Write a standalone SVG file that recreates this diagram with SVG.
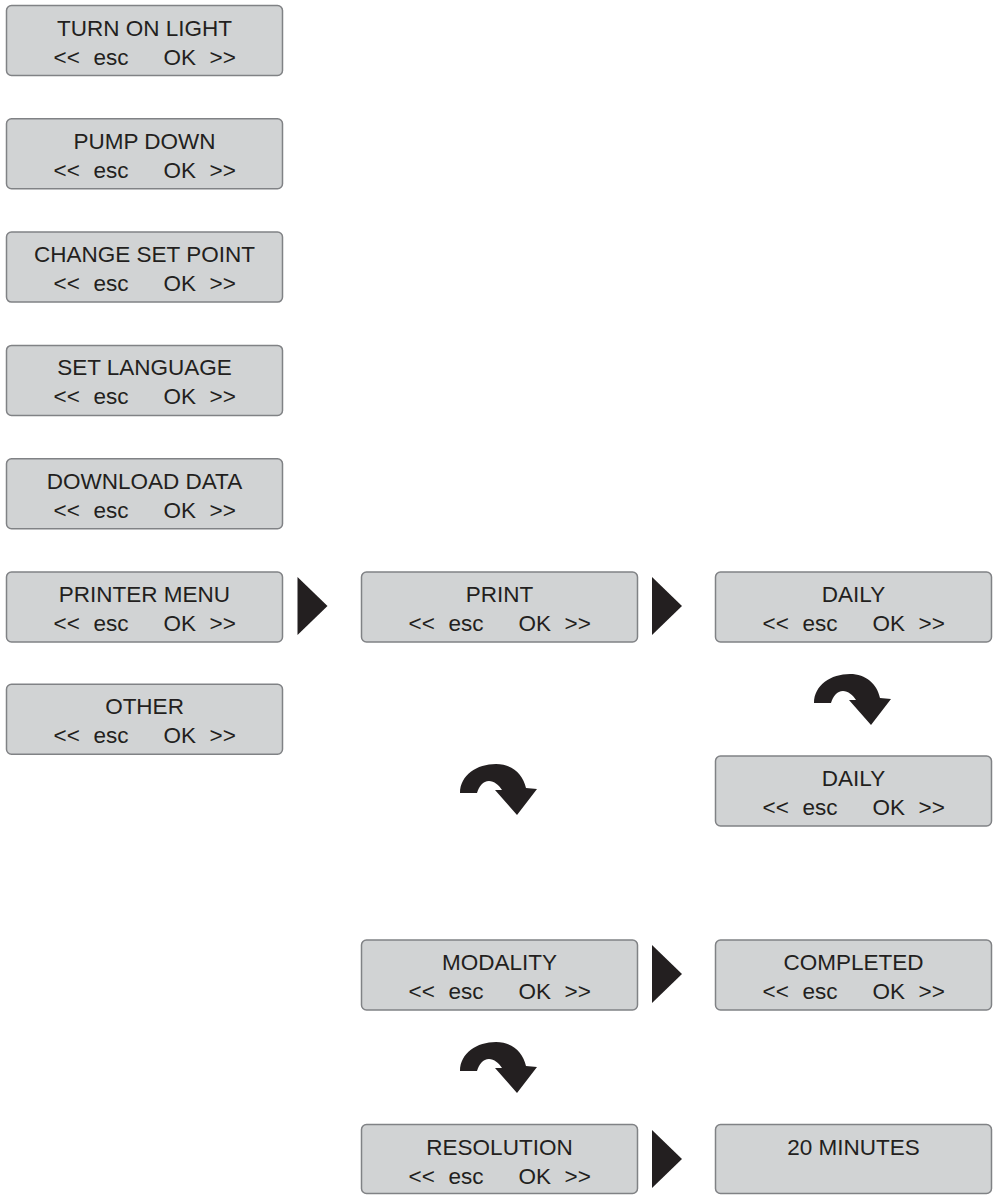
<svg xmlns="http://www.w3.org/2000/svg" width="995" height="1202" viewBox="0 0 995 1202">
<style>
.box{fill:#d1d3d4;stroke:#808285;stroke-width:1.5}
.t{font-family:"Liberation Sans",Arial,sans-serif;font-size:22.5px;fill:#231f20}
.c{text-anchor:middle}
.arr{fill:#231f20}
</style>
<defs>
<path id="curl" class="arr" d="M0,0 C0,-18 17,-29 36,-29 C52,-29 63,-19 66,-5 L77,-4 L57,22 L35,-3 L42,-3 C39,-8 34,-12 29,-12 C23,-12 19,-7 17,0 Z"/>
<polygon id="tri" class="arr" points="0,0 30,29 0,58"/>
</defs>

<g id="n-turn-on-light" transform="translate(6.5,5.5)">
<rect class="box" width="276" height="70" rx="5"/>
<text class="t c" x="138" y="30">TURN ON LIGHT</text>
<text class="t" y="59"><tspan x="47">&lt;&lt;</tspan><tspan x="87">esc</tspan><tspan x="157">OK</tspan><tspan x="203">&gt;&gt;</tspan></text>
</g>
<g id="n-pump-down" transform="translate(6.5,118.8)">
<rect class="box" width="276" height="70" rx="5"/>
<text class="t c" x="138" y="30">PUMP DOWN</text>
<text class="t" y="59"><tspan x="47">&lt;&lt;</tspan><tspan x="87">esc</tspan><tspan x="157">OK</tspan><tspan x="203">&gt;&gt;</tspan></text>
</g>
<g id="n-change-set-point" transform="translate(6.5,232.1)">
<rect class="box" width="276" height="70" rx="5"/>
<text class="t c" x="138" y="30">CHANGE SET POINT</text>
<text class="t" y="59"><tspan x="47">&lt;&lt;</tspan><tspan x="87">esc</tspan><tspan x="157">OK</tspan><tspan x="203">&gt;&gt;</tspan></text>
</g>
<g id="n-set-language" transform="translate(6.5,345.4)">
<rect class="box" width="276" height="70" rx="5"/>
<text class="t c" x="138" y="30">SET LANGUAGE</text>
<text class="t" y="59"><tspan x="47">&lt;&lt;</tspan><tspan x="87">esc</tspan><tspan x="157">OK</tspan><tspan x="203">&gt;&gt;</tspan></text>
</g>
<g id="n-download-data" transform="translate(6.5,458.7)">
<rect class="box" width="276" height="70" rx="5"/>
<text class="t c" x="138" y="30">DOWNLOAD DATA</text>
<text class="t" y="59"><tspan x="47">&lt;&lt;</tspan><tspan x="87">esc</tspan><tspan x="157">OK</tspan><tspan x="203">&gt;&gt;</tspan></text>
</g>
<g id="n-printer-menu" transform="translate(6.5,572)">
<rect class="box" width="276" height="70" rx="5"/>
<text class="t c" x="138" y="30">PRINTER MENU</text>
<text class="t" y="59"><tspan x="47">&lt;&lt;</tspan><tspan x="87">esc</tspan><tspan x="157">OK</tspan><tspan x="203">&gt;&gt;</tspan></text>
</g>
<g id="n-other" transform="translate(6.5,684.3)">
<rect class="box" width="276" height="70" rx="5"/>
<text class="t c" x="138" y="30">OTHER</text>
<text class="t" y="59"><tspan x="47">&lt;&lt;</tspan><tspan x="87">esc</tspan><tspan x="157">OK</tspan><tspan x="203">&gt;&gt;</tspan></text>
</g>
<g id="n-print" transform="translate(361.5,572)">
<rect class="box" width="276" height="70" rx="5"/>
<text class="t c" x="138" y="30">PRINT</text>
<text class="t" y="59"><tspan x="47">&lt;&lt;</tspan><tspan x="87">esc</tspan><tspan x="157">OK</tspan><tspan x="203">&gt;&gt;</tspan></text>
</g>
<g id="n-daily-1" transform="translate(715.5,572)">
<rect class="box" width="276" height="70" rx="5"/>
<text class="t c" x="138" y="30">DAILY</text>
<text class="t" y="59"><tspan x="47">&lt;&lt;</tspan><tspan x="87">esc</tspan><tspan x="157">OK</tspan><tspan x="203">&gt;&gt;</tspan></text>
</g>
<g id="n-daily-2" transform="translate(715.5,756)">
<rect class="box" width="276" height="70" rx="5"/>
<text class="t c" x="138" y="30">DAILY</text>
<text class="t" y="59"><tspan x="47">&lt;&lt;</tspan><tspan x="87">esc</tspan><tspan x="157">OK</tspan><tspan x="203">&gt;&gt;</tspan></text>
</g>
<g id="n-modality" transform="translate(361.5,940)">
<rect class="box" width="276" height="70" rx="5"/>
<text class="t c" x="138" y="30">MODALITY</text>
<text class="t" y="59"><tspan x="47">&lt;&lt;</tspan><tspan x="87">esc</tspan><tspan x="157">OK</tspan><tspan x="203">&gt;&gt;</tspan></text>
</g>
<g id="n-completed" transform="translate(715.5,940)">
<rect class="box" width="276" height="70" rx="5"/>
<text class="t c" x="138" y="30">COMPLETED</text>
<text class="t" y="59"><tspan x="47">&lt;&lt;</tspan><tspan x="87">esc</tspan><tspan x="157">OK</tspan><tspan x="203">&gt;&gt;</tspan></text>
</g>
<g id="n-resolution" transform="translate(361.5,1124.5)">
<rect class="box" width="276" height="69" rx="5"/>
<text class="t c" x="138" y="30">RESOLUTION</text>
<text class="t" y="59"><tspan x="47">&lt;&lt;</tspan><tspan x="87">esc</tspan><tspan x="157">OK</tspan><tspan x="203">&gt;&gt;</tspan></text>
</g>
<g id="n-20-minutes" transform="translate(715.5,1124.5)">
<rect class="box" width="276" height="69" rx="5"/>
<text class="t c" x="138" y="30">20 MINUTES</text>
</g>

<g id="connectors">
<use href="#tri" x="297.5" y="577"/>
<use href="#tri" x="652" y="577"/>
<use href="#tri" x="652" y="945"/>
<use href="#tri" x="652" y="1130"/>
<use href="#curl" x="814" y="703"/>
<use href="#curl" x="460" y="793"/>
<use href="#curl" x="460" y="1071"/>
</g>
</svg>
